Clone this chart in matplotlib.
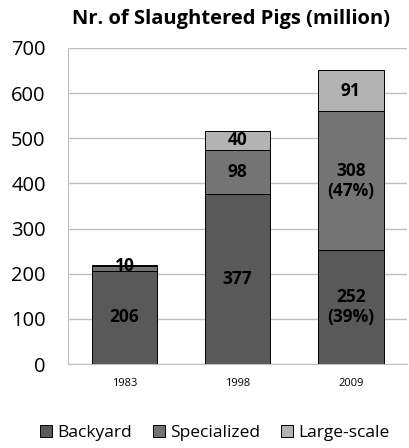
import matplotlib.pyplot as plt
import numpy as np

years = ["1983", "1998", "2009"]
backyard = [206, 377, 252]
specialized = [10, 98, 308]
large_scale = [3, 40, 91]
labels_backyard = ["206", "377", "252\n(39%)"]
labels_specialized = ["10", "98", "308\n(47%)"]
labels_large = ["", "40", "91"]

plt.rcParams["font.family"] = ["Open Sans", "DejaVu Sans"]

fig = plt.figure(figsize=(4.09, 4.48), dpi=100)
ax = fig.add_axes([0.166, 0.1875, 0.830, 0.7055])

x = np.arange(len(years))
w = 0.58
c_back, c_spec, c_large = "#595959", "#747474", "#b3b3b3"

b1 = ax.bar(x, backyard, w, color=c_back, edgecolor="black", linewidth=0.7, label="Backyard", zorder=3)
b2 = ax.bar(x, specialized, w, bottom=backyard, color=c_spec, edgecolor="black", linewidth=0.7,
            label="Specialized", zorder=3)
bottom2 = [a + b for a, b in zip(backyard, specialized)]
b3 = ax.bar(x, large_scale, w, bottom=bottom2, color=c_large, edgecolor="black", linewidth=0.7,
            label="Large-scale", zorder=3)

fs = 12.5
for i in range(len(years)):
    ax.text(x[i], backyard[i] / 2, labels_backyard[i], ha="center", va="center",
            fontsize=fs, fontweight="bold", zorder=4, linespacing=1.15)
    if i == 0:
        ax.text(x[i], bottom2[i] + 1, labels_specialized[i], ha="center", va="center",
                fontsize=fs, fontweight="bold", zorder=4)
    else:
        ax.text(x[i], backyard[i] + specialized[i] / 2, labels_specialized[i], ha="center", va="center",
                fontsize=fs, fontweight="bold", zorder=4, linespacing=1.15)
    if labels_large[i]:
        ax.text(x[i], bottom2[i] + large_scale[i] / 2, labels_large[i], ha="center", va="center",
                fontsize=fs, fontweight="bold", zorder=4)

ax.set_xlim(-0.5, 2.5)
ax.set_ylim(0, 700)
ax.set_yticks(range(0, 701, 100))
ax.set_xticks(x)
ax.set_xticklabels(years, fontsize=8)
ax.tick_params(axis="y", labelsize=14.5, length=0, pad=16)
ax.tick_params(axis="x", length=0, pad=10)
ax.yaxis.grid(True, color="#bfbfbf", linewidth=1, zorder=0)
for s in ax.spines.values():
    s.set_color("#bfbfbf")
ax.spines["right"].set_visible(False)
ax.spines["top"].set_visible(False)

fig.text(0.566, 0.958, "Nr. of Slaughtered Pigs (million)", ha="center", va="center",
         fontsize=14.5, fontweight="bold")

fig.legend(handles=[b1, b2, b3], loc="center", bbox_to_anchor=(0.525, 0.033), ncol=3,
           frameon=False, fontsize=12.5, handlelength=0.7, handleheight=0.7, handletextpad=0.3,
           columnspacing=1.2)

fig.savefig("out.png", dpi=100)
